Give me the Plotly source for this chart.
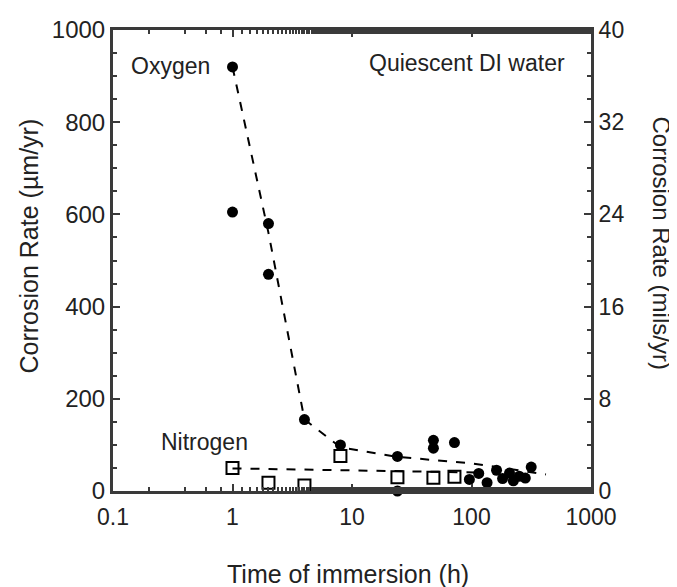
import plotly.graph_objects as go

# Oxygen (filled circles)
oxy_t = [1, 1, 2, 2, 4, 8, 24, 24, 48, 48, 72, 96, 115, 135, 162, 182, 208, 224, 251, 282, 316]
oxy_r = [920, 605, 580, 470, 155, 100, 75, 0, 110, 93, 105, 25, 38, 18, 45, 27, 39, 22, 32, 28, 52]
# Oxygen trend (dashed)
oxy_fit_t = [1, 2, 4, 8, 24, 100, 420]
oxy_fit_r = [920, 560, 155, 95, 74, 60, 36]

# Nitrogen (open squares)
nit_t = [1, 2, 4, 8, 24, 48, 72]
nit_r = [50, 18, 12, 76, 30, 29, 31]
# Nitrogen trend (dashed)
nit_fit_t = [1, 120]
nit_fit_r = [49, 40]

x_ticks = [0.1, 1, 10, 100, 1000]
x_ticklabels = ["0.1", "1", "10", "100", "1000"]
y_ticks = [0, 200, 400, 600, 800, 1000]
y2_ticks = [0, 8, 16, 24, 32, 40]

FONT = "Liberation Sans, Arial, sans-serif"
INK = "#222222"
AX = "#3a3a3a"

fig = go.Figure()
fig.add_trace(go.Scatter(x=oxy_fit_t, y=oxy_fit_r, mode="lines",
                         line=dict(color="black", width=2, dash="dash"),
                         showlegend=False))
fig.add_trace(go.Scatter(x=nit_fit_t, y=nit_fit_r, mode="lines",
                         line=dict(color="black", width=2, dash="dash"),
                         showlegend=False))
fig.add_trace(go.Scatter(x=nit_t, y=nit_r, mode="markers", cliponaxis=False,
                         marker=dict(symbol="square-open", size=12, color="black",
                                     line=dict(width=2)),
                         showlegend=False))
fig.add_trace(go.Scatter(x=oxy_t, y=oxy_r, mode="markers", cliponaxis=False,
                         marker=dict(symbol="circle", size=11, color="black"),
                         showlegend=False))
# invisible trace for secondary axis
fig.add_trace(go.Scatter(x=[1], y=[0], yaxis="y2", mode="markers",
                         marker=dict(opacity=0), showlegend=False, hoverinfo="skip"))

fig.update_layout(
    width=677, height=587,
    margin=dict(l=105, r=94, t=22, b=104, autoexpand=False),
    paper_bgcolor="white", plot_bgcolor="white",
    font=dict(family=FONT, size=23, color=INK),
    xaxis=dict(type="log", range=[-1, 3], tickvals=x_ticks, ticktext=x_ticklabels,
               ticks="inside", ticklen=7, tickwidth=1.5, tickcolor=AX,
               showline=True, linecolor=AX, linewidth=3, mirror="ticks",
               showgrid=False, zeroline=False, ticklabelstandoff=3,
               tickfont=dict(size=23),
               minor=dict(ticks="inside", ticklen=4, tickwidth=1.5, tickcolor=AX, showgrid=False)),
    yaxis=dict(range=[0, 1000], tickvals=y_ticks, ticks="inside", ticklen=7,
               tickwidth=1.5, tickcolor=AX, showline=True, linecolor=AX, linewidth=3,
               showgrid=False, zeroline=False, tickfont=dict(size=24),
               minor=dict(ticks="inside", ticklen=4, tickwidth=1.5, tickcolor=AX,
                          dtick=50, showgrid=False)),
    yaxis2=dict(range=[0, 40], tickvals=y2_ticks, overlaying="y", side="right",
                ticks="inside", ticklen=7, tickwidth=1.5, tickcolor=AX,
                showline=True, linecolor=AX, linewidth=3, showgrid=False, zeroline=False,
                tickfont=dict(size=23),
                minor=dict(ticks="inside", ticklen=4, tickwidth=1.5, tickcolor=AX,
                           dtick=2, showgrid=False)),
    annotations=[
        dict(x=-0.517, y=922, xref="x", yref="y", text="Oxygen", showarrow=False,
             xanchor="center", yanchor="middle", font=dict(size=23)),
        dict(x=2.8, y=928, xref="x", yref="y", text="Quiescent DI water", showarrow=False,
             xanchor="right", yanchor="middle", font=dict(size=23)),
        dict(x=-0.233, y=106, xref="x", yref="y", text="Nitrogen", showarrow=False,
             xanchor="center", yanchor="middle", font=dict(size=23)),
        # axis titles
        dict(x=0, y=0.5, xref="paper", yref="paper", xshift=-85, yshift=14,
             text="Corrosion Rate (µm/yr)", textangle=-90, showarrow=False,
             xanchor="center", yanchor="middle", font=dict(size=25)),
        dict(x=1, y=0.5, xref="paper", yref="paper", xshift=70, yshift=18,
             text="Corrosion Rate (mils/yr)", textangle=90, showarrow=False,
             xanchor="center", yanchor="middle", font=dict(size=24)),
        dict(x=0.5, y=0, xref="paper", yref="paper", xshift=-4, yshift=-83,
             text="Time of immersion (h)", showarrow=False,
             xanchor="center", yanchor="middle", font=dict(size=25)),
    ],
)

fig.write_html("out.html")
